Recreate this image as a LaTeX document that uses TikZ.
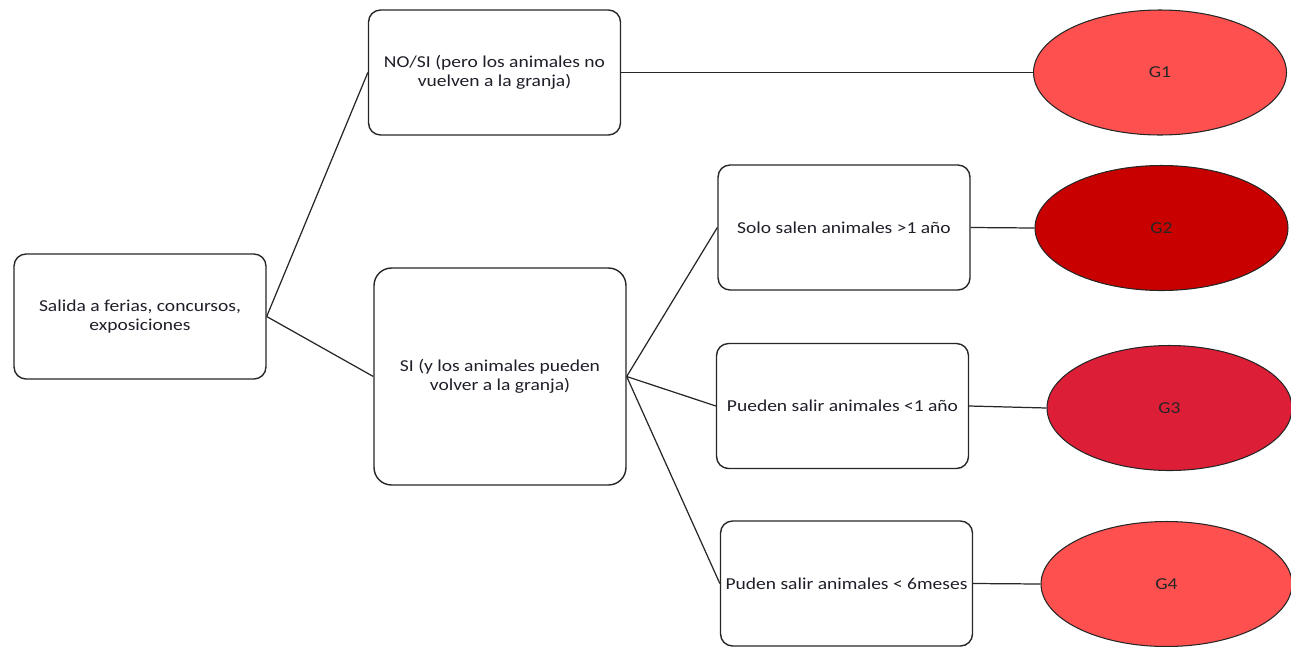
\documentclass[tikz,border=0pt]{standalone}
\usepackage{fontspec}
\setmainfont{Carlito}[FakeStretch=1.17]
\usepackage{tikz}
\usetikzlibrary{shapes.geometric}
\definecolor{rojoclaro}{HTML}{FF5050}
\definecolor{rojooscuro}{HTML}{C80000}
\definecolor{rojomedio}{HTML}{DC1E37}
\definecolor{textogris}{HTML}{1F1F2A}

\begin{document}
\begin{tikzpicture}[x=0.02cm,y=-0.02cm,font=\fontsize{9.5}{10.8}\selectfont,
  caja/.style={draw=black!85,line width=0.8pt,rounded corners=0.24cm,fill=white,align=center,
    text=textogris,minimum width=5.04cm,minimum height=2.5cm,inner sep=2pt},
  grupo/.style={draw=black!85,line width=0.6pt,ellipse,minimum width=5.06cm,minimum height=2.5cm,inner sep=0pt,text=black!85},
  rama/.style={draw=black!85,line width=0.7pt}]
\useasboundingbox (0,0) rectangle (1291,646);
\node[caja] (salida) at (140,316.5) {Salida a ferias, concursos,\\exposiciones};
\node[caja] (nosi) at (494.5,72.5) {NO/SI (pero los animales no\\vuelven a la granja)};
\node[caja,minimum height=4.34cm,rounded corners=0.35cm] (si) at (500,376.5) {SI (y los animales pueden\\volver a la granja)};
\node[caja] (solo) at (844,227.5) {Solo salen animales >1 año};
\node[caja] (pueden) at (842.5,406) {Pueden salir animales <1 año};
\node[caja] (puden) at (846.5,583.5) {Puden salir animales < 6meses};
\node[grupo,fill=rojoclaro] (g1) at (1160,72.5) {G1};
\node[grupo,fill=rojooscuro] (g2) at (1161.5,228) {G2};
\node[grupo,fill=rojomedio,minimum width=4.9cm] (g3) at (1169.5,408) {G3};
\node[grupo,fill=rojoclaro,minimum width=5.02cm] (g4) at (1166.5,584) {G4};
\draw[rama] (salida.east) -- (nosi.west);
\draw[rama] (salida.east) -- (si.west);
\draw[rama] (si.east) -- (solo.west);
\draw[rama] (si.east) -- (pueden.west);
\draw[rama] (si.east) -- (puden.west);
\draw[rama] (nosi.east) -- (g1.west);
\draw[rama] (solo.east) -- (g2.west);
\draw[rama] (pueden.east) -- (g3.west);
\draw[rama] (puden.east) -- (g4.west);
\end{tikzpicture}
\end{document}
